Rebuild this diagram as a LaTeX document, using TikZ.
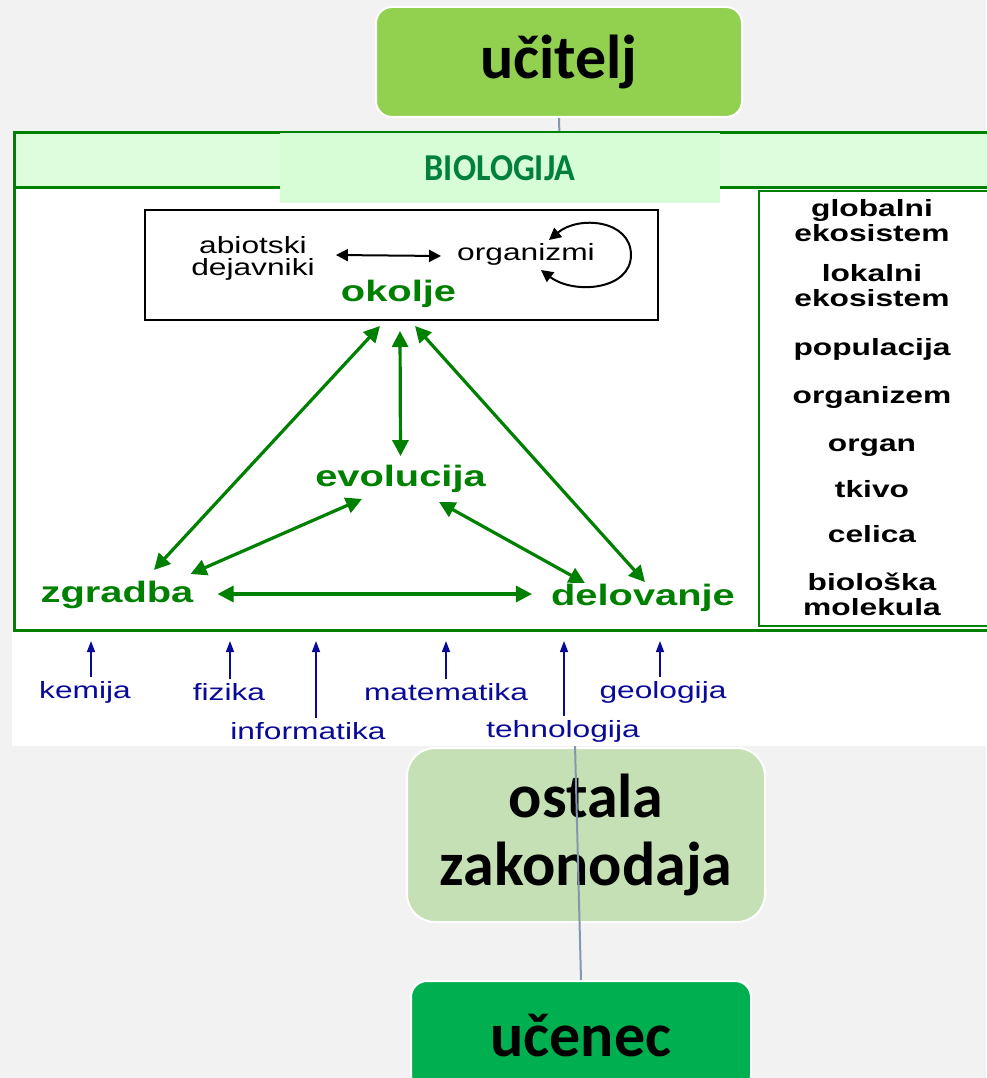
\documentclass[tikz,border=0pt]{standalone}
\usepackage{fontspec}
\setmainfont{Liberation Sans}
\newfontfamily\calibri{Carlito}
\newfontfamily\calibrin[FakeStretch=0.9]{Carlito}
\newfontfamily\arialw[FakeStretch=1.35]{Liberation Sans}
\usepackage{tikz}
\usetikzlibrary{arrows.meta,positioning,calc}
\definecolor{pagebg}{HTML}{F2F2F2}
\definecolor{teachfill}{HTML}{92D050}
\definecolor{lawfill}{HTML}{C5E0B4}
\definecolor{pupilfill}{HTML}{00B050}
\definecolor{framegreen}{HTML}{008000}
\definecolor{bandbg}{HTML}{DDFDDD}
\definecolor{titlebg}{HTML}{D6FDD6}
\definecolor{titletext}{HTML}{00803C}
\definecolor{conceptgreen}{HTML}{008000}
\definecolor{subjectblue}{HTML}{0A0A99}
\definecolor{linkline}{HTML}{8497B0}

\begin{document}
\begin{tikzpicture}[x=1pt,y=-1pt,
  roleBox/.style={draw=white,line width=2pt,rounded corners=16pt,align=center,inner sep=0pt,
    font=\calibri\bfseries\fontsize{62}{68}\selectfont},
  concept/.style={text=conceptgreen,inner sep=1pt,font=\arialw\bfseries\fontsize{29.5}{32}\selectfont},
  rung/.style={align=center,inner sep=0pt,font=\arialw\bfseries\fontsize{23.5}{25}\selectfont},
  plain/.style={align=center,inner sep=1pt,font=\arialw\fontsize{23.5}{22}\selectfont},
  subj/.style={text=subjectblue,inner sep=1pt,font=\arialw\fontsize{23.5}{24}\selectfont},
  gLink/.style={draw=conceptgreen,line width=3.2pt,{Triangle[length=16pt,width=16pt]}-{Triangle[length=16pt,width=16pt]}},
  pair/.style={draw=black,line width=2pt,{Triangle[length=12pt,width=12pt]}-{Triangle[length=12pt,width=12pt]}},
  feed/.style={draw=subjectblue,line width=1.4pt,-{Triangle[length=11pt,width=8pt]}}]
\useasboundingbox (0,0) rectangle (986,1078);
\fill[pagebg] (0,0) rectangle (986,1078);

\node[roleBox,fill=teachfill,minimum width=366pt,minimum height=110pt] (ucitelj) at (559,62) {učitelj};
\node[roleBox,fill=lawfill,rounded corners=28pt,minimum width=358pt,minimum height=174pt] (ostala) at (586,835) {ostala\\zakonodaja};
\node[roleBox,fill=pupilfill,minimum width=340pt,minimum height=110pt] (ucenec) at (581,1036) {učenec};
\draw[linkline,line width=2pt] (ucitelj.south) -- (ucenec.north);

% panel BIOLOGIJA
\fill[white] (12,131) rectangle (995,746);
\fill[bandbg] (14.5,133) rectangle (995,188);
\draw[framegreen,line width=3pt] (995,133) -- (14.5,133) -- (14.5,630) -- (995,630);
\draw[framegreen,line width=3pt] (14.5,188) -- (995,188);
\node[fill=titlebg,minimum width=440pt,minimum height=70pt,text=titletext,
  font=\calibrin\bfseries\fontsize{38}{40}\selectfont] (biologija) at (500,168) {BIOLOGIJA};

\draw[framegreen,line width=1.2pt,fill=white] (759,191) rectangle (995,626);
\node[rung] (globalni) at (872,221) {globalni\\ekosistem};
\node[rung] (lokalni) at (872,286) {lokalni\\ekosistem};
\node[rung] (populacija) at (872,349) {populacija};
\node[rung] (organizem) at (872,397) {organizem};
\node[rung] (organ) at (872,448) {organ};
\node[rung] (tkivo) at (872,489) {tkivo};
\node[rung] (celica) at (872,534) {celica};
\node[rung] (molekula) at (872,594) {biološka\\molekula};

% okolje
\node[draw=black,line width=2pt,minimum width=513pt,minimum height=110pt,inner sep=0pt] (okoljebox) at (401.5,265) {};
\node[plain] (abiotski) at (253,258) {abiotski\\dejavniki};
\node[plain] (organizmi) at (526,254) {organizmi};
\node[concept] (okolje) at (398.5,294) {okolje};
\draw[pair] ($(abiotski.east)+(20,-3)$) -- ($(organizmi.west)+(-15,2)$);
\draw[pair] ([shift={(-47,-14)}]organizmi.east) .. controls +(30,-25) and +(0,-35) .. ([shift={(35,1)}]organizmi.east)
  .. controls +(0,35) and +(33,25) .. ([shift={(-55,16)}]organizmi.east);

\node[concept] (evolucija) at (400.5,479) {evolucija};
\node[concept] (zgradba) at (117,595) {zgradba};
\node[concept] (delovanje) at (643,598) {delovanje};
\draw[gLink] ($(okoljebox.south)+(-21.5,5)$) -- ($(zgradba.north)+(37,-10)$);
\draw[gLink] ($(okoljebox.south)+(-1.5,10)$) -- ($(evolucija.north)+(0,-8)$);
\draw[gLink] ($(okoljebox.south)+(13.5,5)$) -- ($(delovanje.north)+(2,-1)$);
\draw[gLink] ($(evolucija.south)+(-38.5,5)$) -- ($(zgradba.north east)+(-4,-6)$);
\draw[gLink] ($(evolucija.south)+(38.5,8)$) -- ($(delovanje.north west)+(35,0)$);
\draw[gLink] ($(zgradba.east)+(23,-1)$) -- ($(delovanje.west)+(-18,-4)$);

% sosednji predmeti
\node[subj] (kemija) at (85,692) {kemija};
\node[subj] (fizika) at (229,692) {fizika};
\node[subj] (matematika) at (446,692) {matematika};
\node[subj] (geologija) at (663,692) {geologija};
\node[subj] (informatika) at (308,731) {informatika};
\node[subj] (tehnologija) at (563,731) {tehnologija};
\coordinate (kemijaTip) at (91,641);
\coordinate (fizikaTip) at (230,641);
\coordinate (informatikaTip) at (316,641);
\coordinate (matematikaTip) at (446,641);
\coordinate (tehnologijaTip) at (564,641);
\coordinate (geologijaTip) at (660,641);
\foreach \s in {kemija,fizika,informatika,matematika,tehnologija,geologija}
  \draw[feed] ([yshift=3pt]\s.north -| \s Tip) -- (\s Tip);
\end{tikzpicture}
\end{document}
